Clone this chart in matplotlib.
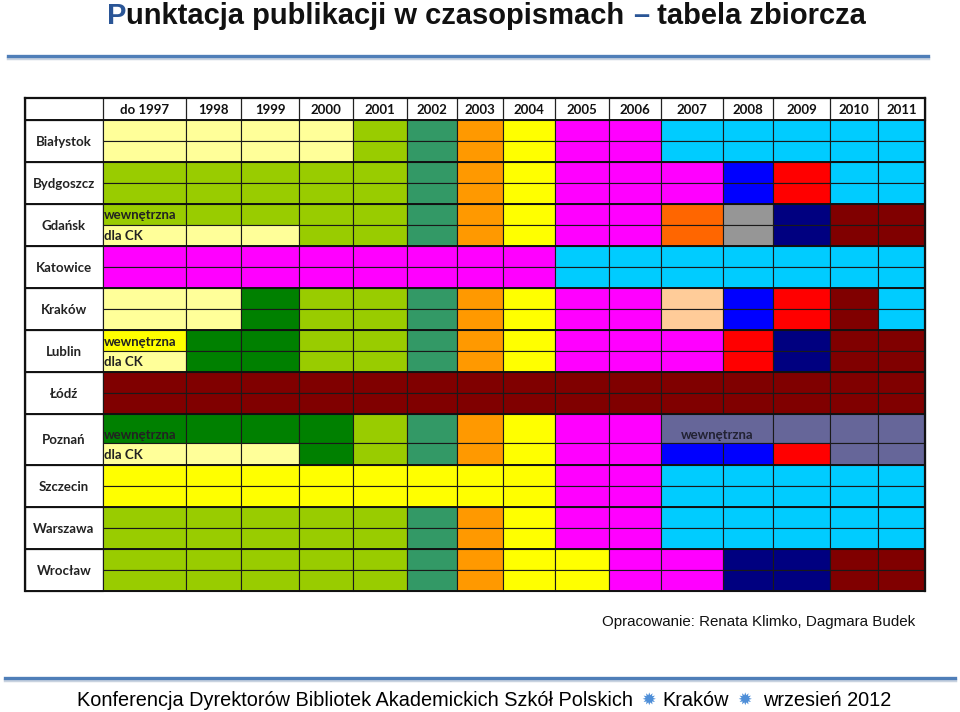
import matplotlib
matplotlib.use("Agg")
import matplotlib.pyplot as plt
from matplotlib.patches import Rectangle
from matplotlib.lines import Line2D

# ---------------- data ----------------
years = ["do 1997", "1998", "1999", "2000", "2001", "2002", "2003", "2004",
         "2005", "2006", "2007", "2008", "2009", "2010", "2011"]
regions = ["Białystok", "Bydgoszcz", "Gdańsk", "Katowice", "Kraków", "Lublin",
           "Łódź", "Poznań", "Szczecin", "Warszawa", "Wrocław"]

# colour category codes per region: (upper sub-row, lower sub-row)
bialystok = (["LY", "LY", "LY", "LY", "YG", "TG", "OR", "Y", "M", "M", "SB", "SB", "SB", "SB", "SB"],
             ["LY", "LY", "LY", "LY", "YG", "TG", "OR", "Y", "M", "M", "SB", "SB", "SB", "SB", "SB"])
bydgoszcz = (["YG", "YG", "YG", "YG", "YG", "TG", "OR", "Y", "M", "M", "M", "B", "R", "SB", "SB"],
             ["YG", "YG", "YG", "YG", "YG", "TG", "OR", "Y", "M", "M", "M", "B", "R", "SB", "SB"])
gdansk = (["YG", "YG", "YG", "YG", "YG", "TG", "OR", "Y", "M", "M", "OR2", "GR", "NV", "MR", "MR"],
          ["LY", "LY", "LY", "YG", "YG", "TG", "OR", "Y", "M", "M", "OR2", "GR", "NV", "MR", "MR"])
katowice = (["M", "M", "M", "M", "M", "M", "M", "M", "SB", "SB", "SB", "SB", "SB", "SB", "SB"],
            ["M", "M", "M", "M", "M", "M", "M", "M", "SB", "SB", "SB", "SB", "SB", "SB", "SB"])
krakow = (["LY", "LY", "DG", "YG", "YG", "TG", "OR", "Y", "M", "M", "PE", "B", "R", "MR", "SB"],
          ["LY", "LY", "DG", "YG", "YG", "TG", "OR", "Y", "M", "M", "PE", "B", "R", "MR", "SB"])
lublin = (["Y", "DG", "DG", "YG", "YG", "TG", "OR", "Y", "M", "M", "M", "R", "NV", "MR", "MR"],
          ["LY", "DG", "DG", "YG", "YG", "TG", "OR", "Y", "M", "M", "M", "R", "NV", "MR", "MR"])
lodz = (["MR"] * 15, ["MR"] * 15)
poznan = (["DG", "DG", "DG", "DG", "YG", "TG", "OR", "Y", "M", "M", "SL", "SL", "SL", "SL", "SL"],
          ["LY", "LY", "LY", "DG", "YG", "TG", "OR", "Y", "M", "M", "B", "B", "R", "SL", "SL"])
szczecin = (["Y", "Y", "Y", "Y", "Y", "Y", "Y", "Y", "M", "M", "SB", "SB", "SB", "SB", "SB"],
            ["Y", "Y", "Y", "Y", "Y", "Y", "Y", "Y", "M", "M", "SB", "SB", "SB", "SB", "SB"])
warszawa = (["YG", "YG", "YG", "YG", "YG", "TG", "OR", "Y", "M", "M", "SB", "SB", "SB", "SB", "SB"],
            ["YG", "YG", "YG", "YG", "YG", "TG", "OR", "Y", "M", "M", "SB", "SB", "SB", "SB", "SB"])
wroclaw = (["YG", "YG", "YG", "YG", "YG", "TG", "OR", "Y", "Y", "M", "M", "NV", "NV", "MR", "MR"],
           ["YG", "YG", "YG", "YG", "YG", "TG", "OR", "Y", "Y", "M", "M", "NV", "NV", "MR", "MR"])
grid_codes = [bialystok, bydgoszcz, gdansk, katowice, krakow, lublin, lodz,
              poznan, szczecin, warszawa, wroclaw]

# text notes inside cells: (region, sub-row, first col, last col, text)
notes = [("Gdańsk", 0, 0, 0, "wewnętrzna"), ("Gdańsk", 1, 0, 0, "dla CK"),
         ("Lublin", 0, 0, 0, "wewnętrzna"), ("Lublin", 1, 0, 0, "dla CK"),
         ("Poznań", 0, 0, 0, "wewnętrzna"), ("Poznań", 1, 0, 0, "dla CK"),
         ("Poznań", 0, 10, 11, "wewnętrzna")]

title_parts = [("P", "blue"), ("unktacja publikacji w czasopismach ", "black"),
               ("–", "blue"), (" tabela zbiorcza", "black")]
credit = "Opracowanie: Renata Klimko, Dagmara Budek"
footer = ["Konferencja Dyrektorów Bibliotek Akademickich Szkół Polskich", "Kraków", "wrzesień 2012"]

# ---------------- styles / layout ----------------
palette = {"LY": "#FFFF99", "YG": "#99CC00", "TG": "#339966", "OR": "#FF9900",
           "Y": "#FFFF00", "M": "#FF00FF", "SB": "#00CCFF", "B": "#0000FF",
           "R": "#FF0000", "OR2": "#FF6600", "GR": "#969696", "NV": "#000080",
           "MR": "#800000", "DG": "#008000", "PE": "#FFCC99", "SL": "#666699"}
title_colors = {"blue": "#2A5596", "black": "#111111"}

W, H = 960, 712
col_edges = [25, 103, 186, 241, 299, 353, 407, 457, 503, 555, 609, 661, 723, 773, 830, 878, 925]
header = (98, 119.5)
row_edges = [119.5, 161.5, 203.5, 245.5, 288, 330, 372, 414, 465, 507, 549, 591]
sub_split = {"Poznań": 443}

fig = plt.figure(figsize=(W / 100, H / 100), dpi=100)
fig.patch.set_facecolor("white")
ax = fig.add_axes([0, 0, 1, 1])
ax.set_xlim(0, W)
ax.set_ylim(H, 0)
ax.axis("off")

lab_font = ["Lato", "DejaVu Sans"]
narrow = ["Liberation Sans Narrow", "Liberation Sans", "DejaVu Sans"]
FS = 9.5

# header row
ax.add_patch(Rectangle((col_edges[0], header[0]), col_edges[-1] - col_edges[0],
                       header[1] - header[0], facecolor="white", edgecolor="none"))
for j, y in enumerate(years):
    x0, x1 = col_edges[j + 1], col_edges[j + 2]
    ax.text((x0 + x1) / 2, (header[0] + header[1]) / 2 + 1, y, ha="center", va="center",
            fontsize=FS, fontweight="bold", family=lab_font, color="#111111")
for x in col_edges:
    ax.plot([x, x], [header[0], header[1]], color="#222222", lw=0.9)

# cells
for i, reg in enumerate(regions):
    top, bot = row_edges[i], row_edges[i + 1]
    mid = sub_split.get(reg, (top + bot) / 2)
    ax.add_patch(Rectangle((col_edges[0], top), col_edges[1] - col_edges[0], bot - top,
                           facecolor="white", edgecolor="#222222", lw=0.9))
    ax.text((col_edges[0] + col_edges[1]) / 2, (top + bot) / 2 + 1, reg, ha="center",
            va="center", fontsize=FS, fontweight="bold", family=lab_font, color="#222222")
    for s, (y0, y1) in enumerate([(top, mid), (mid, bot)]):
        codes = grid_codes[i][s]
        j = 0
        while j < len(codes):
            span = 1
            for n in notes:
                if n[0] == reg and n[1] == s and n[2] == j:
                    span = n[3] - n[2] + 1
            x0, x1 = col_edges[j + 1], col_edges[j + span + 1]
            ax.add_patch(Rectangle((x0, y0), x1 - x0, y1 - y0, facecolor=palette[codes[j]],
                                   edgecolor="#1a1a1a", lw=0.8))
            j += span

# notes text
for reg, s, c0, c1, txt in notes:
    i = regions.index(reg)
    top, bot = row_edges[i], row_edges[i + 1]
    mid = sub_split.get(reg, (top + bot) / 2)
    y0, y1 = (top, mid) if s == 0 else (mid, bot)
    yc = (y0 + y1) / 2 + 1
    if reg == "Poznań" and s == 0:
        yc = y1 - 8
    if c1 > c0:
        ax.text((col_edges[c0 + 1] + col_edges[c1 + 2]) / 2, yc, txt, ha="center", va="center",
                fontsize=FS, fontweight="bold", family=lab_font, color="#222233")
    else:
        ax.text(col_edges[c0 + 1] + 1, yc, txt, ha="left", va="center",
                fontsize=FS, fontweight="bold", family=lab_font, color="#222222")

# thicker region separators and outer border
for y in row_edges:
    ax.plot([col_edges[0], col_edges[-1]], [y, y], color="#111111", lw=1.4)
ax.plot([col_edges[0], col_edges[-1]], [header[0], header[0]], color="#111111", lw=1.6)
ax.plot([col_edges[0], col_edges[0]], [header[0], row_edges[-1]], color="#111111", lw=1.6)
ax.plot([col_edges[-1], col_edges[-1]], [header[0], row_edges[-1]], color="#111111", lw=1.6)

# title (multi-colour)
x = 107
for txt, c in title_parts:
    t = ax.text(x, 16, txt, ha="left", va="center", fontsize=21, fontweight="bold",
                family=narrow, color=title_colors[c])
    fig.canvas.draw()
    x += t.get_window_extent().width

# decorative lines
ax.add_line(Line2D([8, 928], [57.5, 57.5], color="#C9D3E0", lw=2.5))
ax.add_line(Line2D([8, 928], [56, 56], color="#4F7EB8", lw=2.4))
ax.add_line(Line2D([5, 955], [679.5, 679.5], color="#C9D3E0", lw=2.5))
ax.add_line(Line2D([5, 955], [678, 678], color="#4F7EB8", lw=2.4))

# credit
ax.text(915, 622, credit, ha="right", va="center", fontsize=10.9, family=narrow, color="#111111")

# footer
FF = 14.3
ft = ax.text(77, 700, footer[0], ha="left", va="center", fontsize=FF, family=narrow, color="#000000")
fig.canvas.draw()
x = 77 + ft.get_window_extent().width + 8
s1 = ax.text(x, 700, "✹", ha="left", va="center", fontsize=12.5, family=["DejaVu Sans"], color="#4F8FD8")
fig.canvas.draw()
x += s1.get_window_extent().width + 7
k = ax.text(x, 700, footer[1], ha="left", va="center", fontsize=FF, family=narrow, color="#000000")
fig.canvas.draw()
x += k.get_window_extent().width + 8
s2 = ax.text(x, 700, "✹", ha="left", va="center", fontsize=12.5, family=["DejaVu Sans"], color="#4F8FD8")
fig.canvas.draw()
x += s2.get_window_extent().width + 12
ax.text(x, 700, footer[2], ha="left", va="center", fontsize=FF, family=narrow, color="#000000")

fig.savefig("out.png", dpi=100, facecolor="white")
